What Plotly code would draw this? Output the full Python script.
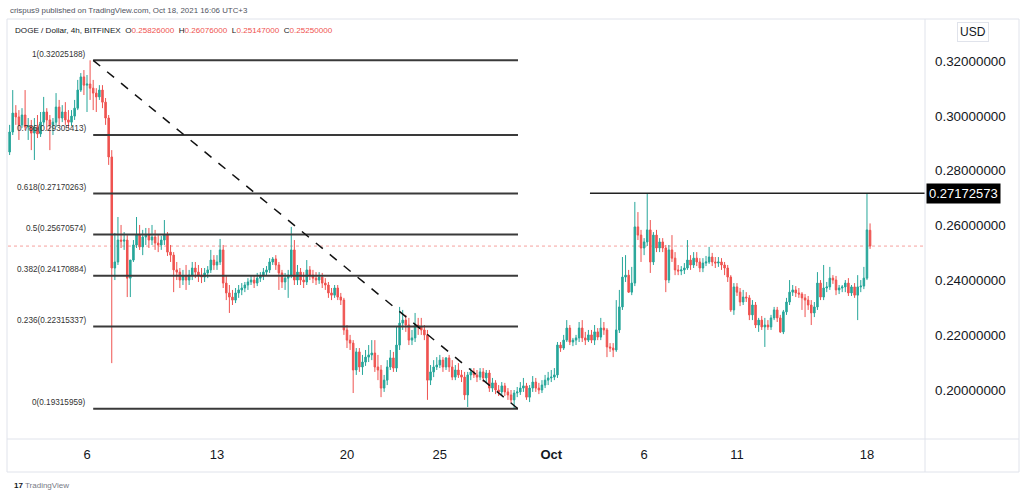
import plotly.graph_objects as go
import pandas as pd

# ---- 4h candles, DOGE/USD (Bitfinex), first candle 2021-09-01 20:00 ----
opens = [
    .2868, .2941, .3010, .2996, .2967, .3003, .2959, .2963, .2937, .2959,
    .2934, .2977, .3014, .2985, .2967, .2977, .3032, .2992, .3014, .2985,
    .2977, .2999, .3028, .3094, .3142, .3112, .3116, .3101, .3083, .3069,
    .3094, .3050, .2992, .2850, .2445, .2467, .2547, .2543, .2547, .2408,
    .2474, .2529, .2565, .2522, .2558, .2565, .2547, .2558, .2536, .2529,
    .2547, .2565, .2503, .2492, .2438, .2430, .2401, .2416, .2401, .2419,
    .2445, .2430, .2419, .2412, .2427, .2438, .2474, .2456, .2467, .2511,
    .2390, .2354, .2339, .2328, .2354, .2365, .2372, .2383, .2394, .2401,
    .2390, .2408, .2416, .2430, .2438, .2467, .2478, .2456, .2427, .2394,
    .2408, .2419, .2511, .2401, .2430, .2401, .2394, .2438, .2419, .2408,
    .2401, .2412, .2390, .2383, .2354, .2346, .2372, .2339, .2328, .2219,
    .2182, .2171, .2073, .2139, .2084, .2102, .2120, .2128, .2135, .2084,
    .2073, .2007, .2036, .2084, .2117, .2080, .2164, .2244, .2255, .2237,
    .2182, .2190, .2237, .2230, .2219, .2201, .2036, .2066, .2084, .2091,
    .2109, .2084, .2117, .2084, .2047, .2073, .2055, .2047, .1982, .2055,
    .2066, .2055, .2047, .2066, .2044, .2062, .2007, .2026, .2000, .1993,
    .2015, .1993, .1982, .1964, .1989, .1993, .2007, .2015, .1974, .2007,
    .2029, .2007, .2000, .2018, .2036, .2044, .2047, .2055, .2164, .2153,
    .2182, .2226, .2175, .2182, .2190, .2226, .2190, .2182, .2201, .2182,
    .2212, .2193, .2226, .2219, .2157, .2153, .2146, .2219, .2303, .2412,
    .2419, .2357, .2390, .2595, .2565, .2518, .2540, .2584, .2467, .2565,
    .2518, .2540, .2518, .2401, .2511, .2481, .2438, .2434, .2438, .2445,
    .2474, .2456, .2481, .2467, .2445, .2463, .2467, .2485, .2467, .2463,
    .2467, .2456, .2445, .2412, .2292, .2376, .2357, .2321, .2339, .2336,
    .2274, .2310, .2237, .2255, .2230, .2237, .2230, .2263, .2292, .2263,
    .2212, .2285, .2321, .2357, .2365, .2354, .2350, .2336, .2328, .2310,
    .2281, .2303, .2390, .2339, .2372, .2376, .2408, .2401, .2365, .2372,
    .2376, .2390, .2354, .2376, .2346, .2376, .2379, .2408, .25826,
]
highs = [
    .2967, .3094, .3039, .3021, .3028, .3094, .2992, .2985, .2992, .3003,
    .3014, .3069, .3028, .3003, .2992, .3083, .3058, .3039, .3050, .3021,
    .3021, .3058, .3131, .3156, .3167, .3149, .32025, .3131, .3101, .3112,
    .3112, .3065, .3003, .2875, .2573, .2631, .2602, .2576, .2565, .2456,
    .2547, .2631, .2602, .2584, .2591, .2591, .2602, .2584, .2565, .2562,
    .2620, .2576, .2529, .2503, .2467, .2445, .2438, .2456, .2438, .2467,
    .2467, .2456, .2445, .2445, .2452, .2511, .2492, .2492, .2551, .2529,
    .2419, .2383, .2365, .2372, .2383, .2390, .2394, .2408, .2419, .2416,
    .2427, .2430, .2445, .2452, .2481, .2485, .2492, .2467, .2438, .2427,
    .2438, .2595, .2547, .2456, .2445, .2430, .2474, .2452, .2438, .2430,
    .2430, .2427, .2408, .2394, .2372, .2383, .2383, .2354, .2336, .2237,
    .2201, .2182, .2153, .2153, .2128, .2146, .2164, .2182, .2182, .2128,
    .2091, .2055, .2109, .2146, .2139, .2230, .2303, .2292, .2274, .2263,
    .2219, .2281, .2263, .2263, .2237, .2219, .2091, .2109, .2120, .2128,
    .2120, .2120, .2128, .2109, .2091, .2098, .2073, .2066, .2066, .2080,
    .2080, .2073, .2080, .2080, .2073, .2073, .2044, .2036, .2018, .2029,
    .2026, .2007, .2000, .2000, .2011, .2029, .2044, .2026, .2018, .2051,
    .2044, .2026, .2036, .2055, .2066, .2073, .2080, .2175, .2175, .2201,
    .2255, .2237, .2190, .2201, .2248, .2255, .2212, .2219, .2219, .2237,
    .2226, .2263, .2248, .2226, .2171, .2171, .2328, .2365, .2485, .2492,
    .2438, .2449, .2686, .2649, .2584, .2554, .2717, .2620, .2576, .2584,
    .2554, .2554, .2529, .2529, .2565, .2503, .2456, .2452, .2463, .2547,
    .2492, .2503, .2503, .2481, .2481, .2489, .2522, .2500, .2485, .2485,
    .2481, .2467, .2456, .2419, .2390, .2390, .2372, .2365, .2357, .2346,
    .2328, .2321, .2263, .2270, .2263, .2255, .2274, .2303, .2303, .2274,
    .2292, .2336, .2401, .2383, .2379, .2372, .2357, .2350, .2343, .2328,
    .2321, .2430, .2401, .2456, .2394, .2449, .2419, .2416, .2383, .2383,
    .2401, .2408, .2383, .2390, .2419, .2401, .2449, .27173, .26076,
]
lows = [
    .2857, .2930, .2967, .2912, .2956, .2948, .2912, .2875, .2839, .2919,
    .2923, .2967, .2948, .2875, .2930, .2959, .2967, .2977, .2967, .2956,
    .2963, .2985, .3021, .3087, .3076, .3014, .3058, .3021, .3014, .3058,
    .3028, .2967, .2821, .2098, .2401, .2456, .2518, .2511, .2339, .2339,
    .2467, .2518, .2511, .2492, .2529, .2518, .2529, .2511, .2503, .2511,
    .2529, .2489, .2467, .2357, .2401, .2372, .2383, .2365, .2383, .2401,
    .2408, .2394, .2390, .2394, .2408, .2427, .2438, .2438, .2456, .2372,
    .2328, .2281, .2310, .2317, .2336, .2346, .2357, .2365, .2383, .2372,
    .2379, .2394, .2401, .2416, .2427, .2456, .2438, .2365, .2372, .2365,
    .2336, .2408, .2383, .2383, .2383, .2372, .2383, .2401, .2390, .2383,
    .2387, .2372, .2365, .2336, .2328, .2336, .2328, .2310, .2201, .2153,
    .2146, .1989, .2055, .2066, .2055, .2088, .2102, .2109, .2066, .2036,
    .1974, .1993, .2018, .2073, .2066, .2066, .2146, .2219, .2212, .2164,
    .2164, .2175, .2201, .2201, .2182, .1964, .2018, .2047, .2073, .2080,
    .2066, .2073, .2066, .2036, .2036, .2044, .2029, .1964, .1938, .2036,
    .2044, .2029, .2036, .2029, .2029, .1993, .1993, .1985, .1978, .1982,
    .1978, .1964, .1953, .19316, .1974, .1982, .1993, .1964, .1956, .1993,
    .1993, .1985, .1989, .2007, .2018, .2029, .2036, .2044, .2139, .2146,
    .2175, .2164, .2160, .2164, .2175, .2175, .2164, .2175, .2171, .2164,
    .2182, .2182, .2201, .2120, .2139, .2120, .2139, .2208, .2292, .2394,
    .2354, .2346, .2379, .2547, .2467, .2492, .2525, .2427, .2456, .2503,
    .2503, .2503, .2357, .2390, .2467, .2419, .2419, .2419, .2423, .2438,
    .2438, .2445, .2452, .2430, .2430, .2452, .2460, .2452, .2445, .2449,
    .2438, .2419, .2394, .2285, .2274, .2343, .2306, .2310, .2321, .2255,
    .2255, .2226, .2212, .2219, .2157, .2219, .2219, .2255, .2248, .2208,
    .2204, .2274, .2310, .2343, .2339, .2336, .2292, .2266, .2292, .2237,
    .2266, .2292, .2328, .2328, .2357, .2365, .2387, .2346, .2350, .2357,
    .2357, .2343, .2343, .2336, .2255, .2357, .2368, .2401, .25147,
]
closes = [
    .2941, .3010, .2996, .2967, .3003, .2959, .2963, .2937, .2959, .2934,
    .2977, .3014, .2985, .2967, .2977, .3032, .2992, .3014, .2985, .2977,
    .2999, .3028, .3094, .3142, .3112, .3116, .3101, .3083, .3069, .3094,
    .3050, .2992, .2850, .2445, .2467, .2547, .2543, .2547, .2408, .2474,
    .2529, .2565, .2522, .2558, .2565, .2547, .2558, .2536, .2529, .2547,
    .2565, .2503, .2492, .2438, .2430, .2401, .2416, .2401, .2419, .2445,
    .2430, .2419, .2412, .2427, .2438, .2474, .2456, .2467, .2511, .2390,
    .2354, .2339, .2328, .2354, .2365, .2372, .2383, .2394, .2401, .2390,
    .2408, .2416, .2430, .2438, .2467, .2478, .2456, .2427, .2394, .2408,
    .2419, .2511, .2401, .2430, .2401, .2394, .2438, .2419, .2408, .2401,
    .2412, .2390, .2383, .2354, .2346, .2372, .2339, .2328, .2219, .2182,
    .2171, .2073, .2139, .2084, .2102, .2120, .2128, .2135, .2084, .2073,
    .2007, .2036, .2084, .2117, .2080, .2164, .2244, .2255, .2237, .2182,
    .2190, .2237, .2230, .2219, .2201, .2036, .2066, .2084, .2091, .2109,
    .2084, .2117, .2084, .2047, .2073, .2055, .2047, .1982, .2055, .2066,
    .2055, .2047, .2066, .2044, .2062, .2007, .2026, .2000, .1993, .2015,
    .1993, .1982, .1964, .1989, .1993, .2007, .2015, .1974, .2007, .2029,
    .2007, .2000, .2018, .2036, .2044, .2047, .2055, .2164, .2153, .2182,
    .2226, .2175, .2182, .2190, .2226, .2190, .2182, .2201, .2182, .2212,
    .2193, .2226, .2219, .2157, .2153, .2146, .2219, .2303, .2412, .2419,
    .2357, .2390, .2595, .2565, .2518, .2540, .2584, .2467, .2565, .2518,
    .2540, .2518, .2401, .2511, .2481, .2438, .2434, .2438, .2445, .2474,
    .2456, .2481, .2467, .2445, .2463, .2467, .2485, .2467, .2463, .2467,
    .2456, .2445, .2412, .2292, .2376, .2357, .2321, .2339, .2336, .2274,
    .2310, .2237, .2255, .2230, .2237, .2230, .2263, .2292, .2263, .2212,
    .2285, .2321, .2357, .2365, .2354, .2350, .2336, .2328, .2310, .2281,
    .2303, .2390, .2339, .2372, .2376, .2408, .2401, .2365, .2372, .2376,
    .2390, .2354, .2376, .2346, .2376, .2379, .2408, .2584, .2525,
]
assert len(opens) == len(highs) == len(lows) == len(closes), (len(opens), len(highs), len(lows), len(closes))

first_candle = "2021-09-01 20:00"
times = pd.date_range(first_candle, periods=len(closes), freq="4h")

# x-axis ticks
tick_dates = ["2021-09-06", "2021-09-13", "2021-09-20", "2021-09-25",
              "2021-10-01", "2021-10-06", "2021-10-11", "2021-10-18"]
tick_labels = ["6", "13", "20", "25", "<b>Oct</b>", "6", "11", "18"]
x_range = ["2021-09-01 17:54", "2021-10-21 03:00"]

# y-axis ticks
price_ticks = [0.20, 0.22, 0.24, 0.26, 0.28, 0.30, 0.32]
y_range = [0.18213, 0.33532]

# Fibonacci retracement drawing
fib_ratios = ["1", "0.786", "0.618", "0.5", "0.382", "0.236", "0"]
fib_prices = [0.32025188, 0.29305413, 0.27170263, 0.25670574,
              0.24170884, 0.22315337, 0.19315959]
fib_start = "2021-09-06 08:00"
fib_end = "2021-09-29 05:00"

resistance_price = 0.27172573
resistance_start = "2021-10-03 02:00"
last_close = 0.2525

UP = "#26a69a"
DOWN = "#ef5350"
FONT = "Liberation Sans"

fig = go.Figure()
fig.add_trace(go.Candlestick(
    x=times, open=opens, high=highs, low=lows, close=closes,
    increasing=dict(line=dict(color=UP, width=1), fillcolor=UP),
    decreasing=dict(line=dict(color=DOWN, width=1), fillcolor=DOWN),
    whiskerwidth=0, showlegend=False, hoverinfo="skip",
))

shapes = []
# last price dotted line (below other drawings)
shapes.append(dict(type="line", xref="paper", yref="y", x0=0, x1=1,
                   y0=last_close, y1=last_close, layer="below",
                   line=dict(color="rgba(239,83,80,0.55)", width=1, dash="dot")))
# fib level lines
for p in fib_prices:
    shapes.append(dict(type="line", xref="x", yref="y", x0=fib_start, x1=fib_end,
                       y0=p, y1=p, line=dict(color="#3a3a3a", width=2)))
# dashed trend line from the high to the low
shapes.append(dict(type="line", xref="x", yref="y", x0=fib_start, x1=fib_end,
                   y0=fib_prices[0], y1=fib_prices[-1],
                   line=dict(color="#111111", width=1.5, dash="dash")))
# horizontal resistance ray
shapes.append(dict(type="line", xref="x", yref="y", x0=resistance_start, x1=x_range[1],
                   y0=resistance_price, y1=resistance_price,
                   line=dict(color="#222222", width=1.5)))

# frame geometry (plot area 8..925 px horizontally, 19..439 px vertically)
def px_x(px):
    return (px - 8) / 917.0

def px_y(py):
    return (439 - py) / 420.0

frame_col = "#e0e3eb"
shapes.append(dict(type="rect", xref="paper", yref="paper",
                   x0=px_x(7), x1=px_x(1019), y0=px_y(472), y1=px_y(19),
                   line=dict(color=frame_col, width=1)))
shapes.append(dict(type="line", xref="paper", yref="paper",
                   x0=px_x(7), x1=px_x(1019), y0=0, y1=0,
                   line=dict(color=frame_col, width=1)))
shapes.append(dict(type="line", xref="paper", yref="paper",
                   x0=1, x1=1, y0=px_y(472), y1=1,
                   line=dict(color=frame_col, width=1)))

annotations = []
annotations.append(dict(
    xref="paper", yref="paper", x=px_x(8), y=px_y(10), xanchor="left", yanchor="middle",
    text="crispus9 published on TradingView.com, Oct 18, 2021 16:06 UTC+3",
    showarrow=False, font=dict(family=FONT, size=7.9, color="#50535e")))
red = "color:#ef5350"
annotations.append(dict(
    xref="paper", yref="paper", x=px_x(13), y=px_y(30), xanchor="left", yanchor="middle",
    text=("DOGE / Dollar, 4h, BITFINEX  O<span style='%s'>0.25826000</span>  "
          "H<span style='%s'>0.26076000</span>  L<span style='%s'>0.25147000</span>  "
          "C<span style='%s'>0.25250000</span>") % (red, red, red, red),
    showarrow=False, font=dict(family=FONT, size=8.1, color="#131722")))
for r, p in zip(fib_ratios, fib_prices):
    annotations.append(dict(
        xref="paper", yref="y", x=px_x(88), y=p, yshift=6, xanchor="right", yanchor="middle",
        text="%s(%.8f)" % (r, p), showarrow=False,
        font=dict(family=FONT, size=8.2, color="#333333")))
annotations.append(dict(
    xref="paper", yref="paper", x=px_x(973), y=px_y(32), xanchor="center", yanchor="middle",
    text="USD", showarrow=False, bordercolor=frame_col, borderwidth=1, borderpad=2,
    font=dict(family=FONT, size=12, color="#131722")))
annotations.append(dict(
    xref="paper", yref="y", x=px_x(926), y=resistance_price, xanchor="left", yanchor="middle",
    text="%.8f" % resistance_price, showarrow=False, bgcolor="#000000", borderpad=2,
    font=dict(family=FONT, size=13, color="#ffffff")))
annotations.append(dict(
    xref="paper", yref="paper", x=px_x(12), y=px_y(485), xanchor="left", yanchor="middle",
    text="<b>17</b> <span style='color:#787b86'>TradingView</span>", showarrow=False,
    font=dict(family=FONT, size=8, color="#131722")))

fig.update_layout(
    width=1024, height=497,
    margin=dict(l=8, r=99, t=19, b=58),
    paper_bgcolor="#ffffff", plot_bgcolor="#ffffff",
    font=dict(family=FONT, color="#131722"),
    shapes=shapes, annotations=annotations,
    showlegend=False,
    xaxis=dict(type="date", range=x_range, rangeslider=dict(visible=False),
               showgrid=False, zeroline=False, showline=False,
               tickvals=tick_dates, ticktext=tick_labels, ticks="",
               ticklabelstandoff=6,
               tickfont=dict(family=FONT, size=13, color="#131722")),
    yaxis=dict(range=y_range, side="right", showgrid=False, zeroline=False,
               showline=False, tickvals=price_ticks,
               ticktext=["%.8f" % v for v in price_ticks], ticks="",
               ticklabelstandoff=9,
               tickfont=dict(family=FONT, size=13.4, color="#131722")),
)

fig.write_html("out.html")
